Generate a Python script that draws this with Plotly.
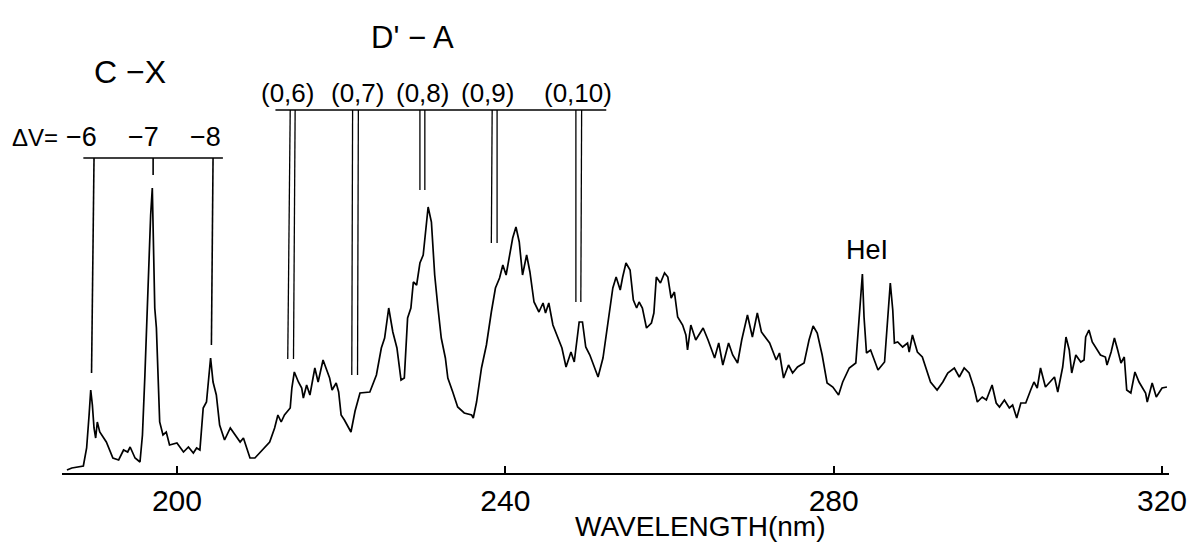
import plotly.graph_objects as go

# ---------------- data ----------------
wavelength_nm = [
    186.6, 187.2, 188.6, 189.0, 189.3, 189.5, 189.7, 189.9, 190.1, 190.3, 190.6, 191.4, 192.2, 192.9,
    193.5, 194.0, 194.3, 194.9, 195.5, 195.8, 196.1, 196.5, 196.8, 197.0, 197.1, 197.3, 197.5,
    197.9, 198.3, 198.7, 199.1, 200.0, 200.8, 201.4, 202.0, 202.4, 202.8, 203.2, 203.6, 204.1,
    204.4, 204.8, 205.2, 205.8, 206.5, 207.1, 207.7, 208.1, 208.9, 209.5, 210.1, 210.7, 211.3,
    211.9, 212.3, 212.7, 213.1, 213.8, 214.0, 214.3, 214.8, 215.2, 215.4, 215.8, 216.2, 216.8,
    217.2, 217.8, 218.2, 218.6, 218.9, 219.4, 219.7, 220.0, 220.4, 221.2, 221.7, 222.3, 223.5,
    224.3, 224.9, 225.3, 225.8, 226.3, 226.8, 227.3, 227.7, 228.1, 228.5, 228.8, 229.2, 229.6,
    230.0, 230.3, 230.6, 231.0, 231.4, 231.8, 232.2, 232.7, 233.0, 233.6, 234.2, 235.0, 235.9,
    236.1, 236.5, 237.1, 237.7, 238.3, 238.8, 239.3, 239.7, 240.1, 240.5, 240.9, 241.3, 241.7,
    242.1, 242.6, 243.0, 243.5, 244.1, 244.6, 244.9, 245.3, 245.8, 246.4, 246.9, 247.4, 248.0,
    248.4, 249.0, 249.4, 249.8, 250.3, 251.3, 251.9, 252.5, 253.1, 253.5, 254.0, 254.3, 254.7,
    255.2, 255.6, 256.0, 256.3, 256.7, 257.2, 257.8, 258.1, 258.4, 258.9, 259.4, 259.8, 260.2,
    260.6, 261.0, 261.6, 262.0, 262.2, 262.6, 263.2, 264.1, 264.7, 265.5, 266.0, 266.5, 267.2,
    267.7, 268.3, 268.8, 269.5, 270.1, 270.7, 271.2, 272.2, 273.0, 273.4, 273.9, 274.5, 275.0,
    275.6, 276.4, 277.0, 277.5, 278.0, 278.6, 279.2, 279.9, 280.6, 281.1, 281.9, 282.7, 283.1,
    283.5, 283.7, 284.0, 284.5, 285.4, 286.2, 286.4, 286.7, 286.9, 287.2, 287.4, 287.8, 288.4,
    289.0, 289.2, 289.6, 290.2, 290.8, 291.2, 291.8, 292.6, 293.3, 293.9, 294.7, 295.3, 295.9,
    296.5, 297.1, 297.5, 298.1, 298.6, 299.3, 299.8, 300.2, 300.8, 301.4, 301.8, 302.3, 302.8,
    303.4, 304.0, 304.4, 304.8, 305.2, 305.8, 306.5, 306.9, 307.3, 307.9, 308.3, 308.7, 309.0,
    309.5, 310.1, 310.5, 310.7, 311.1, 311.5, 312.1, 312.5, 313.1, 313.3, 313.8, 314.2, 314.6,
    315.0, 315.4, 315.7, 316.2, 316.7, 317.2, 318.0, 318.2, 318.8, 319.3, 320.0, 320.6,
]
intensity = [
    3, 5, 7, 25, 58, 83, 68, 45, 35, 51, 41, 31, 15, 13,
    23, 21, 26, 15, 11, 38, 98, 198, 258, 285, 248, 165, 145,
    51, 38, 41, 28, 30, 21, 26, 20, 25, 23, 65, 71, 115,
    91, 78, 48, 33, 45, 38, 31, 35, 15, 15, 20, 26, 31,
    45, 58, 51, 58, 65, 85, 101, 91, 85, 75, 88, 78, 105,
    91, 113, 103, 95, 83, 90, 81, 58, 53, 41, 62, 80, 81,
    98, 125, 135, 165, 141, 125, 93, 95, 155, 165, 191, 188, 210,
    218, 246, 266, 251, 198, 165, 135, 115, 95, 81, 66, 60, 58,
    55, 71, 105, 128, 161, 185, 195, 208, 198, 218, 235, 246, 231,
    198, 218, 201, 171, 161, 170, 160, 170, 148, 135, 125, 106, 121,
    111, 151, 151, 126, 118, 96, 115, 151, 185, 196, 183, 196, 210,
    203, 173, 165, 171, 165, 145, 150, 160, 196, 190, 200, 196, 175,
    181, 156, 148, 138, 123, 148, 133, 145, 133, 115, 130, 108, 130,
    118, 110, 133, 158, 136, 160, 141, 130, 113, 120, 95, 108, 100,
    106, 110, 133, 147, 140, 118, 90, 86, 78, 91, 105, 110, 156,
    199, 156, 120, 123, 103, 111, 136, 173, 190, 163, 130, 131, 126,
    130, 121, 138, 121, 116, 106, 91, 83, 91, 100, 105, 96, 105,
    100, 85, 71, 76, 73, 88, 70, 66, 73, 65, 68, 55, 70,
    70, 83, 91, 85, 105, 86, 93, 96, 81, 106, 136, 123, 100,
    118, 111, 113, 136, 143, 131, 123, 118, 116, 108, 121, 135, 123,
    110, 116, 83, 80, 101, 91, 80, 71, 90, 76, 85, 86,
]

tick_values = [200, 240, 280, 320]
tick_labels = ["200", "240", "280", "320"]

# C-X band heads (Delta v = -6, -7, -8)
cx_labels = ["\u22126", "\u22127", "\u22128"]
cx_label_wl = [188.4, 195.9, 203.5]
cx_mark_wl_top = [189.9, 197.1, 204.4]
cx_mark_wl_bottom = [189.6, 197.1, 204.2]
cx_mark_end = [100, 298, 128]
cx_bar_wl = [188.6, 205.6]

# D'-A bands (0,v'')
da_labels = ["(0,6)", "(0,7)", "(0,8)", "(0,9)", "(0,10)"]
da_label_wl = [213.5, 222.0, 229.9, 237.8, 248.8]
da_mark_wl_top = [(213.8, 214.4), (221.4, 222.1), (229.6, 230.2), (238.4, 239.0), (248.6, 249.3)]
da_mark_wl_bottom = [(213.5, 214.2), (221.3, 222.0), (229.6, 230.2), (238.3, 239.0), (248.6, 249.2)]
da_mark_end = [114, 98, 283, 230, 171]
da_bar_wl = [212.0, 252.3]

hei_wl = 284.1

# ---------------- figure ----------------
FONT = "Liberation Sans, Arial, sans-serif"
CX_BAR_Y = 315
DA_BAR_Y = 363

fig = go.Figure()
fig.add_trace(go.Scatter(
    x=wavelength_nm, y=intensity, mode="lines",
    line=dict(color="black", width=1.7), hoverinfo="skip", showlegend=False,
))

shapes = []
line_style = dict(color="black", width=1.6)
# C-X bar and marks
shapes.append(dict(type="line", xref="x", yref="y", x0=cx_bar_wl[0], x1=cx_bar_wl[1],
                   y0=CX_BAR_Y, y1=CX_BAR_Y, line=line_style))
for xt, xb, ye in zip(cx_mark_wl_top, cx_mark_wl_bottom, cx_mark_end):
    shapes.append(dict(type="line", xref="x", yref="y", x0=xt, x1=xb,
                       y0=CX_BAR_Y, y1=ye, line=line_style))
# D'-A bar and double marks
shapes.append(dict(type="line", xref="x", yref="y", x0=da_bar_wl[0], x1=da_bar_wl[1],
                   y0=DA_BAR_Y, y1=DA_BAR_Y, line=line_style))
for top, bot, ye in zip(da_mark_wl_top, da_mark_wl_bottom, da_mark_end):
    for xt, xb in zip(top, bot):
        shapes.append(dict(type="line", xref="x", yref="y", x0=xt, x1=xb,
                           y0=DA_BAR_Y, y1=ye, line=dict(color="black", width=1.3)))

annotations = []
def txt(x, y, s, size, xref="x", yref="y", xanchor="center"):
    annotations.append(dict(x=x, y=y, xref=xref, yref=yref, text=s, showarrow=False,
                            xanchor=xanchor, yanchor="middle",
                            font=dict(family=FONT, size=size, color="black")))

txt(194.3, 401, "C \u2212X", 32)
txt(-0.002, 336, "\u0394V=", 24, xref="paper", xanchor="right")
for s, x in zip(cx_labels, cx_label_wl):
    txt(x, 336, s, 27)
txt(228.7, 436, "D' \u2212 A", 31)
for s, x in zip(da_labels, da_label_wl):
    txt(x, 380, s, 26)
txt(hei_wl, 223, "HeI", 27)
txt(263.7, -0.114, "WAVELENGTH(nm)", 28, yref="paper")

# the page body adds an 8 px margin; the figure is sized to fill the rest of the window
fig.update_layout(
    width=1193, height=534,
    margin=dict(l=54, r=32, t=0, b=69),
    paper_bgcolor="white", plot_bgcolor="white",
    shapes=shapes, annotations=annotations,
    xaxis=dict(
        range=[186.0, 320.85], showgrid=False, zeroline=False,
        showline=True, linecolor="black", linewidth=2,
        ticks="inside", ticklen=7, tickwidth=1.5, tickcolor="black",
        tickvals=tick_values, ticktext=tick_labels,
        tickfont=dict(family=FONT, size=30, color="black"),
    ),
    yaxis=dict(range=[0, 465], visible=False),
    font=dict(family=FONT, color="black"),
)

fig.write_html("out.html")
